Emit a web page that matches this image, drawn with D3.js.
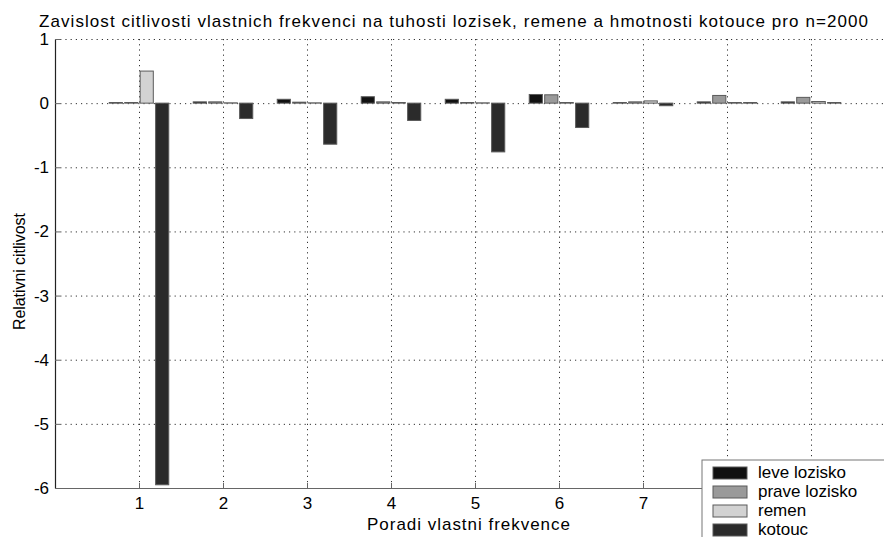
<!DOCTYPE html>
<html>
<head>
<meta charset="utf-8">
<script src="https://cdn.jsdelivr.net/npm/d3@7"></script>
<style>
  html, body { margin: 0; padding: 0; background: #fff; }
  svg { display: block; font-family: Arial, "Liberation Sans", Helvetica, sans-serif; }
</style>
</head>
<body>
<svg id="chart" width="884" height="537"></svg>
<script>
// Relative sensitivity of natural frequencies (n = 2000)
const categories = [1, 2, 3, 4, 5, 6, 7, 8, 9];
const seriesNames = ["leve lozisko", "prave lozisko", "remen", "kotouc"];
const leveLozisko  = [0.01, 0.02, 0.06, 0.10, 0.06, 0.135, 0.01, 0.02, 0.02];
const praveLozisko = [0.01, 0.02, 0.015, 0.02, 0.01, 0.13, 0.02, 0.12, 0.09];
const remen        = [0.50, 0.005, 0.005, 0.01, 0.005, 0.01, 0.035, 0.01, 0.025];
const kotouc       = [-5.95, -0.24, -0.64, -0.27, -0.76, -0.38, -0.04, 0.01, 0.01];
const xTicks = [1, 2, 3, 4, 5, 6, 7, 8, 9, 10];
const xTickLabels = ["1", "2", "3", "4", "5", "6", "7", "", "", ""]; // 8–10 sit under the legend / past the edge
const yTicks = [-6, -5, -4, -3, -2, -1, 0, 1];

const seriesValues = [leveLozisko, praveLozisko, remen, kotouc];
const colors = ["#111111", "#9a9a9a", "#d2d2d2", "#2b2b2b"];

const svg = d3.select("#chart");
const plotLeft = 55, plotRight = 895, plotTop = 39, plotBottom = 488;
const fontSize = 17;

const x = d3.scaleLinear().domain([0, 10]).range([plotLeft, plotRight]);
const y = d3.scaleLinear().domain([-6, 1]).range([plotBottom, plotTop]);

// position of each bar inside a group
const groupWidth = 0.727;
const sub = d3.scaleBand().domain(d3.range(seriesNames.length))
  .range([-groupWidth / 2, groupWidth / 2]).paddingInner(0.15).paddingOuter(0.05);

// dotted grid
const grid = svg.append("g");
grid.selectAll("line.gx").data(xTicks).join("line")
  .attr("x1", d => x(d) + 0.5).attr("x2", d => x(d) + 0.5)
  .attr("y1", plotTop).attr("y2", plotBottom)
  .attr("stroke", "#333").attr("stroke-width", 1).attr("stroke-dasharray", "1.2,4");
grid.selectAll("line.gy").data(yTicks.filter(d => d > -6)).join("line")
  .attr("x1", plotLeft).attr("x2", plotRight)
  .attr("y1", d => y(d) + 0.5).attr("y2", d => y(d) + 0.5)
  .attr("stroke", "#333").attr("stroke-width", 1).attr("stroke-dasharray", "1.2,4");

// bars
const bars = svg.append("g");
seriesValues.forEach((vals, si) => {
  bars.selectAll(null).data(vals.map((v, i) => ({ c: categories[i], v })))
    .join("rect")
    .attr("x", d => x(d.c + sub(si)))
    .attr("width", d => x(d.c + sub(si) + sub.bandwidth()) - x(d.c + sub(si)))
    .attr("y", d => y(Math.max(0, d.v)))
    .attr("height", d => Math.abs(y(d.v) - y(0)))
    .attr("fill", colors[si])
    .attr("stroke", "#5a5a5a").attr("stroke-width", 1);
});

// axes
const xAxis = d3.axisBottom(x).tickValues(xTicks).tickSize(0).tickPadding(9)
  .tickFormat((d, i) => xTickLabels[i]);
const gx = svg.append("g").attr("transform", `translate(0,${plotBottom})`).call(xAxis);
gx.select(".domain").attr("stroke", "#666").attr("stroke-width", 1.2);
gx.selectAll("text").attr("font-size", fontSize).attr("fill", "#000").attr("font-family", "Arial, 'Liberation Sans', sans-serif");
gx.selectAll(".tick").append("line").attr("y1", 0).attr("y2", -5).attr("stroke", "#666");

const yAxis = d3.axisLeft(y).tickValues(yTicks).tickSize(0).tickPadding(6).tickFormat(d => String(d));
const gy = svg.append("g").attr("transform", `translate(${plotLeft},0)`).call(yAxis);
gy.select(".domain").attr("stroke", "#222").attr("stroke-width", 1.2);
gy.selectAll("text").attr("font-size", fontSize).attr("fill", "#000").attr("font-family", "Arial, 'Liberation Sans', sans-serif");
gy.selectAll(".tick").append("line").attr("x1", 0).attr("x2", 5).attr("stroke", "#666");

// titles
svg.append("text").attr("x", 39).attr("y", 27)
  .attr("font-size", fontSize).attr("fill", "#000")
  .attr("textLength", 829).attr("lengthAdjust", "spacing")
  .text("Zavislost citlivosti vlastnich frekvenci na tuhosti lozisek, remene a hmotnosti kotouce pro n=2000");
svg.append("text").attr("x", 367).attr("y", 530)
  .attr("font-size", fontSize).attr("fill", "#000")
  .attr("textLength", 203).attr("lengthAdjust", "spacing")
  .text("Poradi vlastni frekvence");
svg.append("text").attr("transform", "translate(25,330) rotate(-90)")
  .attr("font-size", 16).attr("fill", "#000")
  .attr("textLength", 117).attr("lengthAdjust", "spacing")
  .text("Relativni citlivost");

// legend
const lg = svg.append("g").attr("transform", "translate(702,460)");
lg.append("rect").attr("x", 0).attr("y", 0).attr("width", 200).attr("height", 100)
  .attr("fill", "#fff").attr("stroke", "#777").attr("stroke-width", 1);
seriesNames.forEach((name, i) => {
  lg.append("rect").attr("x", 11).attr("y", 7 + i * 19).attr("width", 34).attr("height", 12)
    .attr("fill", colors[i]).attr("stroke", "#5a5a5a").attr("stroke-width", 1);
  lg.append("text").attr("x", 56).attr("y", 18 + i * 19).attr("font-size", fontSize)
    .attr("fill", "#000").text(name);
});
</script>
</body>
</html>
